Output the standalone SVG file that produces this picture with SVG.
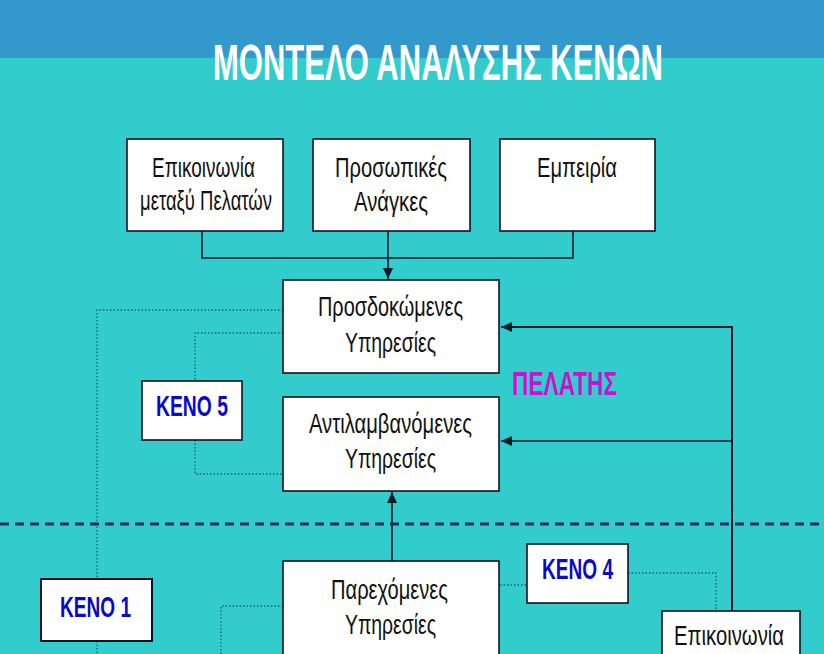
<svg xmlns="http://www.w3.org/2000/svg" width="824" height="654" viewBox="0 0 824 654">
<style>
.box{fill:#ffffff;stroke:#111122;stroke-width:1.6}
.t{font-family:"Liberation Sans Narrow","Liberation Sans",Arial,sans-serif;font-size:28px;fill:#111111}
.k{font-family:"Liberation Sans Narrow","Liberation Sans",Arial,sans-serif;font-size:30px;font-weight:bold;fill:#0a0ac8}
.solid{fill:none;stroke:#0d1b2a;stroke-width:1.6}
.dot{fill:none;stroke:#17627a;stroke-width:1.3;stroke-dasharray:1.5 2}
</style>
<defs>
<marker id="ah" markerUnits="userSpaceOnUse" markerWidth="12" markerHeight="10" refX="11" refY="5" orient="auto">
<path d="M0,0 L11,5 L0,10 Z" fill="#0d1b2a"/>
</marker>
</defs>
<rect x="0" y="0" width="824" height="654" fill="#33cccc"/>
<rect x="0" y="0" width="824" height="58" fill="#3399cc"/>
<text x="213" y="80" font-family="Liberation Sans,Arial,sans-serif" font-size="50" font-weight="bold" fill="#ffffff" textLength="450" lengthAdjust="spacingAndGlyphs">ΜΟΝΤΕΛΟ ΑΝΑΛΥΣΗΣ ΚΕΝΩΝ</text>

<g id="connectors">
<path class="solid" d="M202,231 V258 H573 V231"/>
<path class="solid" d="M388,231 V279" marker-end="url(#ah)"/>
<path class="solid" d="M392,561 V492" marker-end="url(#ah)"/>
<path class="solid" d="M732,611 V327 H501" marker-end="url(#ah)" style="stroke-width:2"/>
<path class="solid" d="M732,441 H501" marker-end="url(#ah)"/>
<path class="dot" d="M283,310 H97 V579 M97,641 V654"/>
<path class="dot" d="M283,333 H195 V381 M195,440 V474 H283"/>
<path class="dot" d="M283,606 H221 V654"/>
<path class="dot" d="M500,585 H527"/>
<path class="dot" d="M628,573 H716 V611"/>
<line x1="0" y1="524" x2="824" y2="524" stroke="#1a2a5e" stroke-width="3" stroke-dasharray="9 6"/>
</g>

<g id="n-epikoinonia-pelaton">
<rect class="box" x="127" y="139" width="156" height="92"/>
<text class="t" x="152" y="177" textLength="103" lengthAdjust="spacingAndGlyphs">Επικοινωνία</text>
<text class="t" x="140" y="210" textLength="132" lengthAdjust="spacingAndGlyphs">μεταξύ Πελατών</text>
</g>
<g id="n-prosopikes">
<rect class="box" x="313" y="139" width="157" height="92"/>
<text class="t" x="335" y="177" textLength="112" lengthAdjust="spacingAndGlyphs">Προσωπικές</text>
<text class="t" x="354" y="211" textLength="74" lengthAdjust="spacingAndGlyphs">Ανάγκες</text>
</g>
<g id="n-empeiria">
<rect class="box" x="500" y="139" width="155" height="92"/>
<text class="t" x="537" y="177" textLength="80" lengthAdjust="spacingAndGlyphs">Εμπειρία</text>
</g>
<g id="n-prosdokomenes">
<rect class="box" x="283" y="280" width="216" height="93"/>
<text class="t" x="318" y="316" textLength="145" lengthAdjust="spacingAndGlyphs">Προσδοκώμενες</text>
<text class="t" x="345" y="352" textLength="91" lengthAdjust="spacingAndGlyphs">Υπηρεσίες</text>
</g>
<g id="n-antilamvanomenes">
<rect class="box" x="283" y="397" width="216" height="94"/>
<text class="t" x="309" y="433" textLength="163" lengthAdjust="spacingAndGlyphs">Αντιλαμβανόμενες</text>
<text class="t" x="345" y="468" textLength="91" lengthAdjust="spacingAndGlyphs">Υπηρεσίες</text>
</g>
<g id="n-parexomenes">
<rect class="box" x="283" y="561" width="216" height="100"/>
<text class="t" x="331" y="599" textLength="117" lengthAdjust="spacingAndGlyphs">Παρεχόμενες</text>
<text class="t" x="345" y="634" textLength="91" lengthAdjust="spacingAndGlyphs">Υπηρεσίες</text>
</g>
<g id="n-epikoinonia">
<rect class="box" x="662" y="611" width="138" height="50"/>
<text class="t" x="674" y="645" textLength="110" lengthAdjust="spacingAndGlyphs">Επικοινωνία</text>
</g>
<g id="n-keno5">
<rect class="box" x="142" y="381" width="100" height="59"/>
<text class="k" x="156" y="416" textLength="72" lengthAdjust="spacingAndGlyphs">ΚΕΝΟ 5</text>
</g>
<g id="n-keno4">
<rect class="box" x="527" y="544" width="101" height="59"/>
<text class="k" x="542" y="579" textLength="71" lengthAdjust="spacingAndGlyphs">ΚΕΝΟ 4</text>
</g>
<g id="n-keno1">
<rect class="box" x="41" y="579" width="111" height="62" style="stroke-width:2"/>
<text class="k" x="60" y="617" textLength="71" lengthAdjust="spacingAndGlyphs">ΚΕΝΟ 1</text>
</g>
<g id="n-pelatis">
<text x="512" y="395" font-family="Liberation Sans Narrow,Liberation Sans,Arial,sans-serif" font-size="34" font-weight="bold" fill="#cc11cc" textLength="105" lengthAdjust="spacingAndGlyphs">ΠΕΛΑΤΗΣ</text>
</g>
</svg>
